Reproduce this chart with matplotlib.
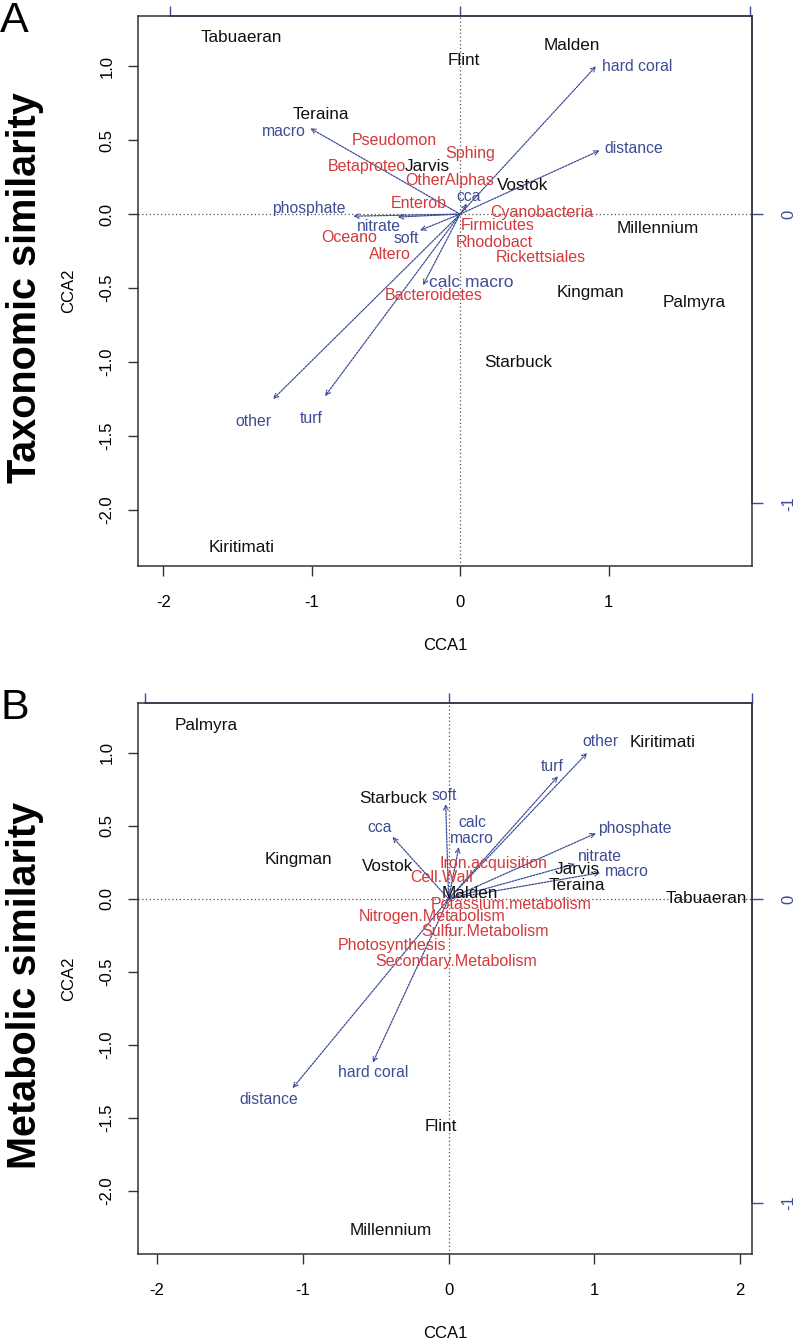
import numpy as np
import matplotlib
matplotlib.use('Agg')
import matplotlib.pyplot as plt

plt.rcParams['font.family'] = ['Liberation Sans', 'DejaVu Sans']

BLUE = '#3d4c94'
RED = '#d23a3c'
BLACK = '#111111'

# ---- panel A: taxonomic similarity ----
a_sites = ['Tabuaeran', 'Flint', 'Malden', 'Teraina', 'Jarvis', 'Vostok',
           'Millennium', 'Kingman', 'Palmyra', 'Starbuck', 'Kiritimati']
a_site_x = [-1.475, 0.027, 0.75, -0.94, -0.22, 0.42, 1.33, 0.875, 1.58, 0.39, -1.47]
a_site_y = [1.19, 1.04, 1.14, 0.676, 0.32, 0.196, -0.10, -0.53, -0.60, -1.00, -2.25]

a_taxa = ['Pseudomon', 'Sphing', 'Betaproteo', 'OtherAlphas', 'Enterob', 'Cyanobacteria',
          'Firmicutes', 'Oceano', 'Rhodobact', 'Altero', 'Rickettsiales', 'Bacteroidetes']
a_taxa_x = [-0.44, 0.07, -0.63, -0.07, -0.28, 0.55, 0.25, -0.75, 0.23, -0.47, 0.545, -0.18]
a_taxa_y = [0.50, 0.41, 0.32, 0.23, 0.075, 0.014, -0.08, -0.16, -0.19, -0.27, -0.29, -0.55]

a_env = ['hard coral', 'distance', 'macro', 'phosphate', 'nitrate', 'soft',
         'cca', 'calc macro', 'other', 'turf']
a_env_x = [0.916, 0.94, -1.01, -0.72, -0.42, -0.27, 0.045, -0.25, -1.26, -0.91]
a_env_y = [1.00, 0.43, 0.58, -0.014, -0.02, -0.11, 0.07, -0.48, -1.25, -1.23]
a_env_lx = [1.19, 1.17, -1.19, -1.02, -0.545, -0.36, 0.055, 0.075, -1.39, -1.00]
a_env_ly = [1.00, 0.445, 0.56, 0.04, -0.085, -0.165, 0.12, -0.46, -1.40, -1.38]

# ---- panel B: metabolic similarity ----
b_sites = ['Palmyra', 'Kiritimati', 'Starbuck', 'Kingman', 'Vostok', 'Malden',
           'Jarvis', 'Teraina', 'Tabuaeran', 'Flint', 'Millennium']
b_site_x = [-1.66, 1.47, -0.38, -1.03, -0.42, 0.145, 0.88, 0.88, 1.77, -0.055, -0.40]
b_site_y = [1.19, 1.07, 0.685, 0.27, 0.22, 0.035, 0.20, 0.09, 0.005, -1.56, -2.27]

b_func = ['Iron.acquisition', 'Cell.Wall', 'Potassium.metabolism', 'Nitrogen.Metabolism',
          'Sulfur.Metabolism', 'Photosynthesis', 'Secondary.Metabolism']
b_func_x = [0.31, -0.05, 0.43, -0.11, 0.25, -0.39, 0.055]
b_func_y = [0.24, 0.145, -0.04, -0.12, -0.22, -0.32, -0.43]

b_env = ['other', 'turf', 'soft', 'cca', 'calc\nmacro', 'phosphate', 'nitrate',
         'macro', 'hard coral', 'distance']
b_env_x = [0.95, 0.75, -0.02, -0.385, 0.07, 1.01, 0.865, 1.04, -0.52, -1.07]
b_env_y = [1.00, 0.84, 0.65, 0.425, 0.355, 0.45, 0.24, 0.18, -1.12, -1.295]
b_env_lx = [1.04, 0.71, -0.03, -0.47, 0.16, 1.28, 1.035, 1.22, -0.52, -1.235]
b_env_ly = [1.075, 0.91, 0.71, 0.49, 0.47, 0.48, 0.29, 0.185, -1.19, -1.37]


def cca_panel(ax, xlim, ylim, scale, sites, sx, sy, spp, px, py,
              env, ex, ey, lx, ly, xticks):
    ax.set_xlim(*xlim)
    ax.set_ylim(*ylim)
    ax.axhline(0, color='#555555', lw=0.9, ls=(0, (1, 2)), zorder=0)
    ax.axvline(0, color='#555555', lw=0.9, ls=(0, (1, 2)), zorder=0)

    for i in range(len(env)):
        ax.annotate('', xy=(ex[i], ey[i]), xytext=(0, 0),
                    arrowprops=dict(arrowstyle='->', color=BLUE, lw=0.9,
                                    ls=(0, (1.5, 1)), mutation_scale=8,
                                    shrinkA=0, shrinkB=0))
        fs = 12.5 if env[i] == 'calc macro' else 11.3
        ax.text(lx[i], ly[i], env[i], color=BLUE, fontsize=fs,
                ha='center', va='center', linespacing=1.1)

    for i in range(len(spp)):
        ax.text(px[i], py[i], spp[i], color=RED, fontsize=11.5,
                ha='center', va='center')
    for i in range(len(sites)):
        ax.text(sx[i], sy[i], sites[i], color=BLACK, fontsize=12.3,
                ha='center', va='center')

    ax.set_xticks(xticks)
    ax.set_xticklabels([str(t) for t in xticks])
    yt = [1.0, 0.5, 0.0, -0.5, -1.0, -1.5, -2.0]
    ax.set_yticks(yt)
    ax.set_yticklabels(['%.1f' % t for t in yt], rotation=90, va='center')
    ax.tick_params(direction='out', length=7, width=1, labelsize=12,
                   color='#333333', pad=14)
    ax.tick_params(axis='y', pad=10)
    for s in ax.spines.values():
        s.set_color('#333333')
        s.set_linewidth(1.1)
    ax.set_xlabel('CCA1', fontsize=12, labelpad=20)
    ax.set_ylabel('CCA2', fontsize=12, labelpad=17)

    # biplot arrow scale on top and right
    top = ax.secondary_xaxis('top', functions=(lambda x: x / scale, lambda x: x * scale))
    top.set_xticks([-1, 0, 1])
    top.set_xticklabels([])
    top.tick_params(direction='out', length=7, width=1, color=BLUE)
    top.spines['top'].set_color(BLUE)
    top.spines['top'].set_linewidth(1.1)
    top.spines['top'].set_bounds(-1, 1)

    right = ax.secondary_yaxis('right', functions=(lambda y: y / scale, lambda y: y * scale))
    right.set_yticks([0, -1])
    right.set_yticklabels(['0', '-1'], rotation=90, va='center')
    right.tick_params(direction='out', length=8, width=1, color=BLUE,
                      labelcolor=BLUE, labelsize=12, pad=13)
    right.spines['right'].set_color(BLUE)
    right.spines['right'].set_linewidth(1.1)
    right.spines['right'].set_bounds(-1, ylim[1] / scale)


fig = plt.figure(figsize=(7.98, 13.41), dpi=100)

ax1 = fig.add_axes([0.1729, 0.5779, 0.7694, 0.4101])
cca_panel(ax1, (-2.17, 1.966), (-2.378, 1.338), 1.955,
          a_sites, a_site_x, a_site_y, a_taxa, a_taxa_x, a_taxa_y,
          a_env, a_env_x, a_env_y, a_env_lx, a_env_ly, [-2, -1, 0, 1])

ax2 = fig.add_axes([0.1729, 0.0649, 0.7694, 0.4109])
cca_panel(ax2, (-2.13, 2.08), (-2.43, 1.342), 2.08,
          b_sites, b_site_x, b_site_y, b_func, b_func_x, b_func_y,
          b_env, b_env_x, b_env_y, b_env_lx, b_env_ly, [-2, -1, 0, 1, 2])

fig.text(0.0, 0.9995, 'A', fontsize=31, va='top', ha='left')
fig.text(0.0, 0.487, 'B', fontsize=31, va='top', ha='left')
fig.text(0.031, 1 - 288 / 1341, 'Taxonomic similarity', fontsize=28.5, fontweight='bold',
         rotation=90, ha='center', va='center')
fig.text(0.031, 1 - 985 / 1341, 'Metabolic similarity', fontsize=28.5, fontweight='bold',
         rotation=90, ha='center', va='center')

fig.savefig('out.png', dpi=100)
